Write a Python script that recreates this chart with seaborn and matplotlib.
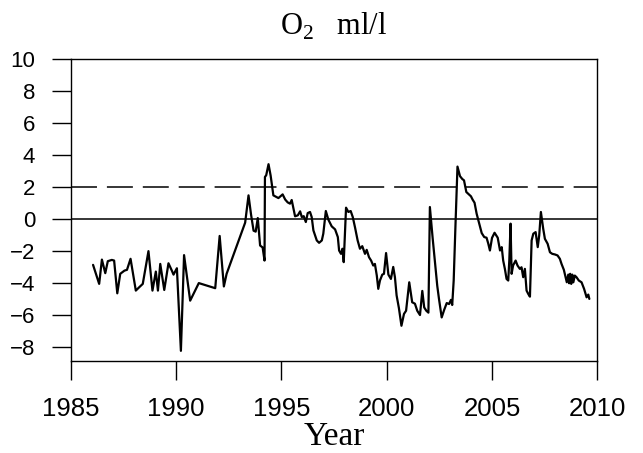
import matplotlib
matplotlib.use("Agg")
import matplotlib.pyplot as plt
import seaborn as sns
import pandas as pd

# Oxygen anomaly time series (ml/l)
years = [
    1986.06, 1986.35, 1986.48, 1986.64, 1986.76, 1986.95, 1987.06, 1987.21, 1987.35, 1987.55,
    1987.67, 1987.84, 1988.09, 1988.22, 1988.42, 1988.69, 1988.88, 1989.04, 1989.14, 1989.25,
    1989.44, 1989.64, 1989.80, 1989.88, 1990.04, 1990.23, 1990.38, 1990.67, 1991.08, 1991.86,
    1992.07, 1992.27, 1992.40, 1993.28, 1993.44, 1993.56, 1993.68, 1993.78, 1993.88, 1993.99,
    1994.11, 1994.20, 1994.22, 1994.28, 1994.39, 1994.49, 1994.62, 1994.86, 1995.06, 1995.18,
    1995.30, 1995.41, 1995.49, 1995.57, 1995.65, 1995.78, 1995.89, 1995.97, 1996.06, 1996.16,
    1996.25, 1996.36, 1996.44, 1996.52, 1996.68, 1996.79, 1996.92, 1996.99, 1997.11, 1997.23,
    1997.39, 1997.55, 1997.68, 1997.74, 1997.83, 1997.90, 1997.96, 1998.07, 1998.18, 1998.29,
    1998.39, 1998.50, 1998.62, 1998.73, 1998.84, 1998.97, 1999.05, 1999.16, 1999.26, 1999.36,
    1999.44, 1999.53, 1999.60, 1999.68, 1999.79, 1999.87, 1999.97, 2000.08, 2000.20, 2000.31,
    2000.39, 2000.47, 2000.58, 2000.70, 2000.82, 2000.92, 2001.07, 2001.21, 2001.34, 2001.45,
    2001.58, 2001.69, 2001.78, 2001.88, 2001.98, 2002.05, 2002.18, 2002.30, 2002.40, 2002.48,
    2002.61, 2002.73, 2002.85, 2002.96, 2003.05, 2003.11, 2003.18, 2003.26, 2003.36, 2003.48,
    2003.59, 2003.67, 2003.78, 2003.88, 2004.00, 2004.08, 2004.17, 2004.27, 2004.37, 2004.51,
    2004.63, 2004.74, 2004.82, 2004.90, 2005.00, 2005.12, 2005.27, 2005.38, 2005.46, 2005.53,
    2005.61, 2005.69, 2005.77, 2005.82, 2005.88, 2005.93, 2006.00, 2006.12, 2006.21, 2006.32,
    2006.40, 2006.48, 2006.56, 2006.64, 2006.72, 2006.80, 2006.88, 2006.96, 2007.07, 2007.17,
    2007.24, 2007.32, 2007.43, 2007.51, 2007.64, 2007.75, 2007.86, 2007.99, 2008.11, 2008.22,
    2008.30, 2008.41, 2008.49, 2008.55, 2008.62, 2008.66, 2008.71, 2008.76, 2008.81, 2008.86,
    2008.93, 2009.01, 2009.12, 2009.25, 2009.37, 2009.49, 2009.57, 2009.62,
]
o2 = [
    -2.89, -4.08, -2.56, -3.41, -2.66, -2.58, -2.62, -4.67, -3.45, -3.25,
    -3.20, -2.51, -4.50, -4.33, -4.08, -2.03, -4.50, -3.31, -4.50, -2.83,
    -4.46, -2.79, -3.25, -3.50, -3.10, -8.27, -2.28, -5.13, -4.03, -4.35,
    -1.08, -4.24, -3.45, -0.25, 1.46, 0.26, -0.75, -0.81, 0.04, -1.68,
    -1.80, -2.62, 2.61, 2.72, 3.41, 2.70, 1.46, 1.29, 1.52, 1.20,
    1.02, 0.94, 1.17, 0.65, 0.15, 0.21, 0.46, 0.10, 0.16, -0.21,
    0.35, 0.42, 0.10, -0.73, -1.36, -1.51, -1.36, -0.94, 0.48, -0.06,
    -0.48, -0.67, -1.15, -1.99, -2.20, -1.88, -2.72, 0.69, 0.42, 0.48,
    0.10, -0.57, -1.36, -1.88, -1.72, -2.20, -1.95, -2.41, -2.62, -2.93,
    -2.83, -3.56, -4.39, -3.87, -3.50, -3.45, -2.15, -3.50, -3.77, -3.02,
    -3.66, -4.80, -5.60, -6.70, -5.96, -5.76, -3.98, -5.23, -5.32, -5.76,
    -6.03, -4.52, -5.55, -5.76, -5.88, 0.73, -1.20, -2.80, -4.20, -5.00,
    -6.18, -5.70, -5.28, -5.34, -5.08, -5.40, -3.87, -0.60, 3.26, 2.66,
    2.48, 2.40, 1.67, 1.55, 1.40, 1.19, 1.00, 0.31, -0.20, -0.90,
    -1.15, -1.19, -1.55, -1.99, -1.20, -0.88, -1.19, -1.99, -1.78, -2.62,
    -3.14, -3.77, -3.87, -2.62, -0.31, -3.45, -2.93, -2.62, -2.93, -3.14,
    -3.04, -3.66, -3.14, -4.50, -4.71, -4.88, -1.36, -0.94, -0.84, -1.78,
    -1.05, 0.42, -0.63, -1.26, -1.57, -2.10, -2.20, -2.24, -2.30, -2.51,
    -2.83, -3.20, -3.66, -3.98, -3.50, -4.04, -3.45, -4.08, -3.50, -3.98,
    -3.56, -3.66, -3.87, -3.98, -4.39, -4.92, -4.75, -5.02,
]

threshold = 2.0
x_ticks = [1985, 1990, 1995, 2000, 2005, 2010]
y_ticks = [-8, -6, -4, -2, 0, 2, 4, 6, 8, 10]

df = pd.DataFrame({"Year": years, "O2": o2})

sns.set_theme(style="ticks")
plt.rcParams["font.family"] = ["Liberation Sans", "DejaVu Sans"]
plt.rcParams["mathtext.fontset"] = "custom"
plt.rcParams["mathtext.rm"] = "Liberation Serif"
for key in ["text.color", "axes.labelcolor", "xtick.color", "ytick.color",
            "xtick.labelcolor", "ytick.labelcolor", "axes.edgecolor"]:
    plt.rcParams[key] = "black"

fig = plt.figure(figsize=(6.43, 4.53), dpi=100)
ax = fig.add_axes([0.110, 0.204, 0.819, 0.666])

sns.lineplot(data=df, x="Year", y="O2", estimator=None, sort=False,
             color="black", linewidth=1.6, ax=ax)

ax.axhline(0, color="black", linewidth=1.1, zorder=1)
ax.axhline(threshold, color="black", linewidth=1.1, zorder=1,
           linestyle=(0, (17, 6.5)))

ax.set_xlim(1985, 2010)
ax.set_ylim(-8.88, 10)
ax.set_xticks(x_ticks)
ax.set_yticks(y_ticks)

for side in ["left", "right", "top", "bottom"]:
    ax.spines[side].set_visible(True)
    ax.spines[side].set_linewidth(1.0)
    ax.spines[side].set_color("black")

ax.tick_params(axis="both", direction="out", length=13.5, width=1.0, color="black")
ax.tick_params(axis="x", labelsize=18.5, pad=13, labelcolor="black")
ax.tick_params(axis="y", labelsize=16, pad=12, labelcolor="black")

ax.set_ylabel("")
ax.set_xlabel("Year", family="Liberation Serif", fontsize=24, labelpad=0,
              color="black")
ax.set_title(r"O$_\mathregular{2}$   ml/l", family="Liberation Serif",
             fontsize=22, pad=17, color="black")

fig.savefig("out.png", dpi=100)
